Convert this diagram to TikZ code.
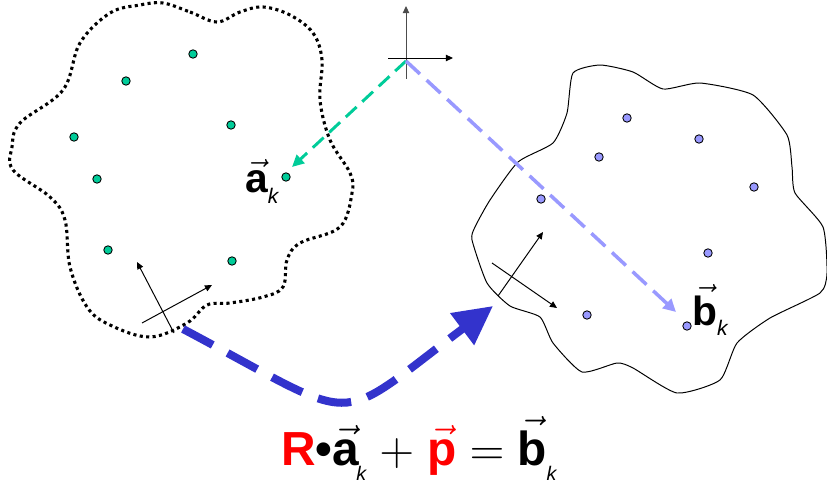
\RequirePackage{fix-cm}
\documentclass[tikz,border=0pt]{standalone}
\usepackage{fontspec}
\setmainfont{Liberation Sans}
\usetikzlibrary{arrows.meta}
\definecolor{mint}{RGB}{0,204,153}
\definecolor{lilac}{RGB}{153,153,255}
\definecolor{deepblue}{RGB}{51,51,204}
\newcommand\vecbf[1]{$\vec{\mbox{\bfseries #1}}$}
\newcommand\subk[2]{\raisebox{#1}{\fontsize{#2}{#2}\selectfont\mdseries\itshape k}}
\begin{document}
\begin{tikzpicture}[x=0.025cm,y=-0.025cm,
  adot/.style={circle,draw,line width=0.6pt,fill=mint,inner sep=0pt,minimum size=6pt},
  bdot/.style={adot,fill=lilac},
  axis/.style={-{Triangle[length=5pt,width=4.5pt]},line width=0.7pt},
  minttrace/.style={mint,line width=2.1pt,dash pattern=on 10.5pt off 5.5pt,-{Triangle[length=8.5pt,width=8pt]}},
  lilactrace/.style={lilac,line width=2.5pt,dash pattern=on 13.5pt off 6.5pt,-{Triangle[length=9pt,width=9pt]}},
  motion/.style={deepblue,line width=5.7pt,dash pattern=on 24pt off 12pt,-{Triangle[length=27.5pt,width=27pt]}},
  lbl/.style={inner sep=0pt,font=\fontsize{29}{34}\selectfont}]
\useasboundingbox (0,0) rectangle (827,484);
\draw[line width=2.2pt,dash pattern=on 2.2pt off 2.4pt] plot[smooth cycle,tension=0.6] coordinates {
  (163,3) (190,12) (217,22) (240,12) (263,7) (290,15) (313,33) (322,60) (320,100) (330,140)
  (350,173) (352,193) (340,227) (300,243) (287,260) (283,287) (263,297) (230,303) (207,305)
  (187,323) (150,337) (110,325) (87,307) (70,267) (65,220) (50,197) (13,170) (12,147) (20,123)
  (63,90) (80,43) (110,13) (140,5)};
\draw[line width=0.7pt] plot[smooth cycle,tension=0.35] coordinates {
  (573,73) (600,65) (633,72) (663,89) (700,83) (753,95) (787,135) (792,167) (795,193) (823,227)
  (827,273) (820,293) (770,318) (737,343) (720,380) (677,393) (633,368) (617,363) (582,372)
  (553,343) (540,317) (510,306) (487,283) (472,240) (475,227) (490,200) (518,162) (553,143)
  (567,113)};
\foreach \x/\y [count=\i] in {193/54,126/81,231/125,74/137,97/179,286/177,108/250,232/261}
  \node[adot] (a\i) at (\x,\y) {};
\foreach \x/\y [count=\i] in {627/118,699/139,599/157,754/187,541/199,708/253,587/315,687/326}
  \node[bdot] (b\i) at (\x,\y) {};
\draw[axis] (142,323) -- (212,285);
\draw[axis] (174,333) -- (137,262);
\draw[axis] (498,296) -- (543,232);
\draw[axis] (492,263) -- (557,308);
\draw[axis,gray!60!black] (406,79) -- (406,6);
\draw[axis] (388,58) -- (453,58);
\coordinate (O) at (406,61);
\coordinate (ak) at (292,167);
\coordinate (bk) at (676,312);
\draw[minttrace] (O) -- (ak);
\draw[lilactrace] (O) -- (bk);
\coordinate (s) at (183,329);
\coordinate (t) at (493,306);
\draw[motion] (s) .. controls (366,426) and (329,429) .. (t);
\node[lbl,anchor=base west] (la) at (245,193) {\vecbf{a}\subk{-0.25em}{15}};
\node[lbl,anchor=base west] (lb) at (692,325) {\vecbf{b}\subk{-0.25em}{15}};
\node[anchor=base,inner sep=0pt,font=\fontsize{34}{40}\selectfont\bfseries] (eq) at (419,465)
  {\textcolor{red}{R}\textbullet\vecbf{a}\kern-2pt\subk{-0.33em}{14} $+$ \textcolor{red}{\vecbf{p}} $=$ \vecbf{b}\subk{-0.33em}{14}};
\end{tikzpicture}
\end{document}
